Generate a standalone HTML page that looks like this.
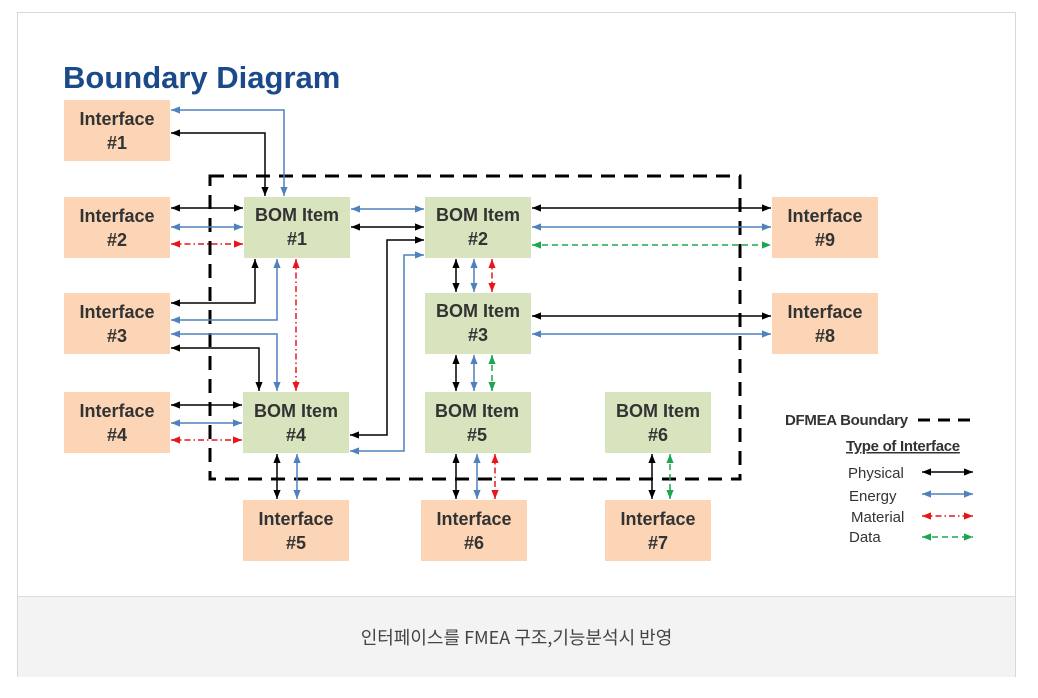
<!DOCTYPE html>
<html><head><meta charset="utf-8"><style>
html,body{margin:0;padding:0;background:#fff;}
body{width:1038px;height:698px;overflow:hidden;position:relative;font-family:"Liberation Sans","Noto Sans CJK KR",sans-serif;}
.frame{position:absolute;left:17px;top:12px;width:999px;height:665px;border:1px solid #d8d8d8;box-sizing:border-box;}
.cap{position:absolute;left:18px;top:596px;width:997px;height:80px;background:#f3f3f3;border-top:1px solid #ddd;text-align:center;line-height:80px;font-size:18px;color:#444;font-family:"Noto Sans CJK KR","Liberation Sans",sans-serif;}
svg{position:absolute;left:0;top:0;}
</style></head><body>
<div class="frame"></div>
<div class="cap">인터페이스를 FMEA 구조,기능분석시 반영</div>
<svg width="1038" height="698" viewBox="0 0 1038 698">
<defs>
<marker id="k" viewBox="0 0 10 10" refX="10" refY="5" markerWidth="6" markerHeight="6" orient="auto-start-reverse"><path d="M0,1 L10,5 L0,9z" fill="#000"/></marker>
<marker id="b" viewBox="0 0 10 10" refX="10" refY="5" markerWidth="6" markerHeight="6" orient="auto-start-reverse"><path d="M0,1 L10,5 L0,9z" fill="#4f81bd"/></marker>
<marker id="r" viewBox="0 0 10 10" refX="10" refY="5" markerWidth="6" markerHeight="6" orient="auto-start-reverse"><path d="M0,1 L10,5 L0,9z" fill="#e8161b"/></marker>
<marker id="g" viewBox="0 0 10 10" refX="10" refY="5" markerWidth="6" markerHeight="6" orient="auto-start-reverse"><path d="M0,1 L10,5 L0,9z" fill="#1ca650"/></marker>
</defs>
<text x="63" y="88" font-size="31" font-weight="bold" fill="#1b4a8a">Boundary Diagram</text>

<rect x="210" y="176" width="530" height="303" fill="none" stroke="#000" stroke-width="3" stroke-dasharray="14,9"/>

<g fill="#fbd5b5">
<rect x="64" y="100" width="106" height="61"/><rect x="64" y="197" width="106" height="61"/>
<rect x="64" y="293" width="106" height="61"/><rect x="64" y="392" width="106" height="61"/>
<rect x="243" y="500" width="106" height="61"/><rect x="421" y="500" width="106" height="61"/>
<rect x="605" y="500" width="106" height="61"/><rect x="772" y="197" width="106" height="61"/>
<rect x="772" y="293" width="106" height="61"/>
</g>
<g fill="#d7e4bd">
<rect x="244" y="197" width="106" height="61"/><rect x="425" y="197" width="106" height="61"/>
<rect x="425" y="293" width="106" height="61"/><rect x="243" y="392" width="106" height="61"/>
<rect x="425" y="392" width="106" height="61"/><rect x="605" y="392" width="106" height="61"/>
</g>

<g fill="none" stroke-width="1.5">
<g stroke="#000">
<path d="M171,133 H265 V196" marker-start="url(#k)" marker-end="url(#k)"/>
<path d="M171,208 H243" marker-start="url(#k)" marker-end="url(#k)"/>
<path d="M171,303 H255 V259" marker-start="url(#k)" marker-end="url(#k)"/>
<path d="M171,348 H259 V391" marker-start="url(#k)" marker-end="url(#k)"/>
<path d="M171,405 H242" marker-start="url(#k)" marker-end="url(#k)"/>
<path d="M351,227 H424" marker-start="url(#k)" marker-end="url(#k)"/>
<path d="M350,435 H387 V240 H424" marker-start="url(#k)" marker-end="url(#k)"/>
<path d="M532,208 H771" marker-start="url(#k)" marker-end="url(#k)"/>
<path d="M532,316 H771" marker-start="url(#k)" marker-end="url(#k)"/>
<path d="M456,259 V292" marker-start="url(#k)" marker-end="url(#k)"/>
<path d="M456,355 V391" marker-start="url(#k)" marker-end="url(#k)"/>
<path d="M277,454 V499" marker-start="url(#k)" marker-end="url(#k)"/>
<path d="M456,454 V499" marker-start="url(#k)" marker-end="url(#k)"/>
<path d="M652,454 V499" marker-start="url(#k)" marker-end="url(#k)"/>
<path d="M922,472 H973" marker-start="url(#k)" marker-end="url(#k)"/>
</g>
<g stroke="#4f81bd">
<path d="M171,110 H284 V196" marker-start="url(#b)" marker-end="url(#b)"/>
<path d="M171,227 H243" marker-start="url(#b)" marker-end="url(#b)"/>
<path d="M171,320 H277 V259" marker-start="url(#b)" marker-end="url(#b)"/>
<path d="M171,334 H277 V391" marker-start="url(#b)" marker-end="url(#b)"/>
<path d="M171,423 H242" marker-start="url(#b)" marker-end="url(#b)"/>
<path d="M351,209 H424" marker-start="url(#b)" marker-end="url(#b)"/>
<path d="M350,451 H404 V255 H424" marker-start="url(#b)" marker-end="url(#b)"/>
<path d="M532,227 H771" marker-start="url(#b)" marker-end="url(#b)"/>
<path d="M532,334 H771" marker-start="url(#b)" marker-end="url(#b)"/>
<path d="M474,259 V292" marker-start="url(#b)" marker-end="url(#b)"/>
<path d="M474,355 V391" marker-start="url(#b)" marker-end="url(#b)"/>
<path d="M297,454 V499" marker-start="url(#b)" marker-end="url(#b)"/>
<path d="M477,454 V499" marker-start="url(#b)" marker-end="url(#b)"/>
<path d="M922,494 H973" marker-start="url(#b)" marker-end="url(#b)"/>
</g>
<g stroke="#e8161b" stroke-dasharray="6,3,1.5,3">
<path d="M171,244 H243" marker-start="url(#r)" marker-end="url(#r)"/>
<path d="M171,440 H242" marker-start="url(#r)" marker-end="url(#r)"/>
<path d="M296,259 V391" marker-start="url(#r)" marker-end="url(#r)"/>
<path d="M492,259 V292" marker-start="url(#r)" marker-end="url(#r)"/>
<path d="M495,454 V499" marker-start="url(#r)" marker-end="url(#r)"/>
<path d="M922,516 H973" marker-start="url(#r)" marker-end="url(#r)"/>
</g>
<g stroke="#1ca650" stroke-dasharray="6,4">
<path d="M532,245 H771" marker-start="url(#g)" marker-end="url(#g)"/>
<path d="M492,355 V391" marker-start="url(#g)" marker-end="url(#g)"/>
<path d="M670,454 V499" marker-start="url(#g)" marker-end="url(#g)"/>
<path d="M922,537 H973" marker-start="url(#g)" marker-end="url(#g)"/>
</g>
</g>

<g font-size="18" font-weight="bold" fill="#333" text-anchor="middle">
<text x="117" y="125">Interface</text><text x="117" y="149">#1</text>
<text x="117" y="222">Interface</text><text x="117" y="246">#2</text>
<text x="117" y="318">Interface</text><text x="117" y="342">#3</text>
<text x="117" y="417">Interface</text><text x="117" y="441">#4</text>
<text x="296" y="525">Interface</text><text x="296" y="549">#5</text>
<text x="474" y="525">Interface</text><text x="474" y="549">#6</text>
<text x="658" y="525">Interface</text><text x="658" y="549">#7</text>
<text x="825" y="222">Interface</text><text x="825" y="246">#9</text>
<text x="825" y="318">Interface</text><text x="825" y="342">#8</text>
<text x="297" y="221">BOM Item</text><text x="297" y="245">#1</text>
<text x="478" y="221">BOM Item</text><text x="478" y="245">#2</text>
<text x="478" y="317">BOM Item</text><text x="478" y="341">#3</text>
<text x="296" y="417">BOM Item</text><text x="296" y="441">#4</text>
<text x="477" y="417">BOM Item</text><text x="477" y="441">#5</text>
<text x="658" y="417">BOM Item</text><text x="658" y="441">#6</text>
</g>
<text x="785" y="425" font-size="15" font-weight="bold" fill="#333" letter-spacing="-0.3">DFMEA Boundary</text>
<line x1="918" y1="420" x2="978" y2="420" stroke="#000" stroke-width="3" stroke-dasharray="12,8"/>
<text x="846" y="451" font-size="15" font-weight="bold" fill="#333" text-decoration="underline" letter-spacing="-0.3">Type of Interface</text>
<g font-size="15" fill="#333">
<text x="848" y="478">Physical</text><text x="849" y="501">Energy</text>
<text x="851" y="522">Material</text><text x="849" y="542">Data</text>
</g>
</svg>
</body></html>
